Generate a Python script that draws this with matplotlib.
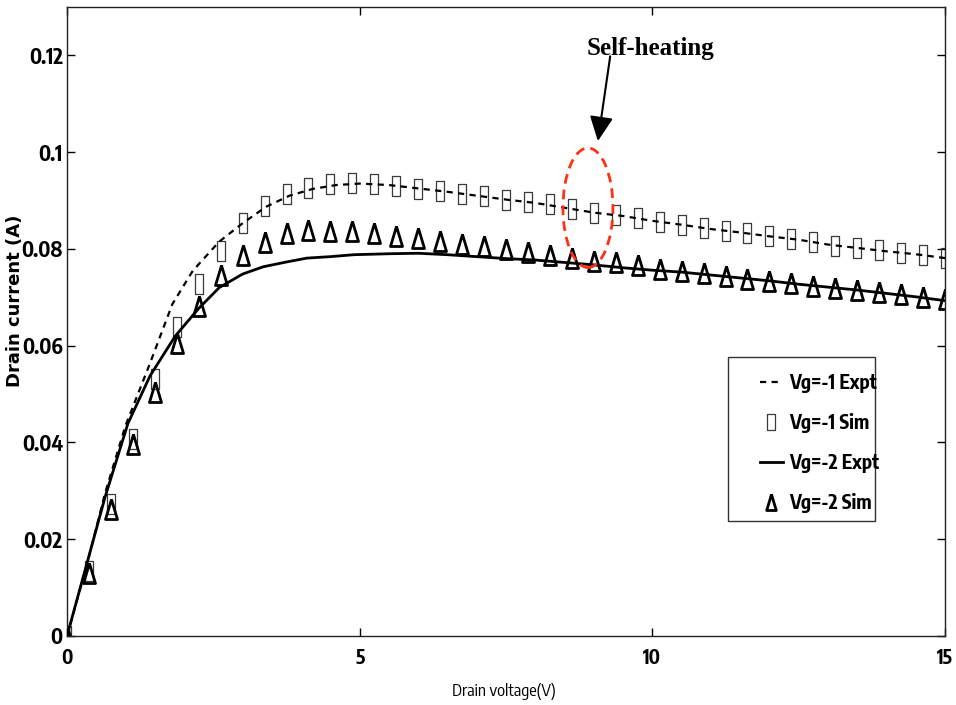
import matplotlib
matplotlib.use("Agg")
import matplotlib.pyplot as plt
from matplotlib.patches import Ellipse, Rectangle
from matplotlib.ticker import FuncFormatter, FixedLocator

# ---- data -------------------------------------------------------------
# simulation bias points (drain voltage, V)
vd_sim = [0.0, 0.375, 0.75, 1.125, 1.5, 1.875, 2.25, 2.625, 3.0, 3.375,
          3.75, 4.125, 4.5, 4.875, 5.25, 5.625, 6.0, 6.375, 6.75, 7.125,
          7.5, 7.875, 8.25, 8.625, 9.0, 9.375, 9.75, 10.125, 10.5, 10.875,
          11.25, 11.625, 12.0, 12.375, 12.75, 13.125, 13.5, 13.875, 14.25,
          14.625, 15.0]

# simulated drain current (A)
id_vg1_sim = [0.0, 0.0135, 0.0272, 0.0408, 0.0532, 0.0639, 0.0728, 0.0796,
              0.0853, 0.0889, 0.0913, 0.0926, 0.0934, 0.0936, 0.0935, 0.0930,
              0.0924, 0.0920, 0.0913, 0.0909, 0.0902, 0.0897, 0.0892, 0.0882,
              0.0875, 0.0870, 0.0864, 0.0856, 0.0850, 0.0843, 0.0836, 0.0832,
              0.0826, 0.0821, 0.0814, 0.0806, 0.0802, 0.0797, 0.0792, 0.0787,
              0.0781]
id_vg2_sim = [0.0, 0.0130, 0.0262, 0.0396, 0.0505, 0.0605, 0.0682, 0.0747,
              0.0787, 0.0815, 0.0833, 0.0840, 0.0838, 0.0836, 0.0832, 0.0827,
              0.0823, 0.0816, 0.0810, 0.0806, 0.0799, 0.0794, 0.0788, 0.0781,
              0.0776, 0.0772, 0.0766, 0.0759, 0.0755, 0.0751, 0.0744, 0.0738,
              0.0734, 0.0729, 0.0724, 0.0720, 0.0715, 0.0710, 0.0706, 0.0701,
              0.0697]

# measured curves
vd_vg1_expt = [0.0, 0.35, 0.65, 1.0, 1.4, 1.8, 2.15, 2.6, 3.0, 3.4, 3.8,
               4.2, 4.6, 5.0, 5.5, 6.0, 6.5, 7.0, 7.5, 8.0, 8.5, 9.0, 9.5,
               10.0, 10.5, 11.0, 11.5, 12.0, 12.5, 13.0, 13.5, 14.0, 14.5,
               15.0]
id_vg1_expt = [0.0, 0.0152, 0.0295, 0.0435, 0.0558, 0.0686, 0.0755, 0.0815,
               0.0853, 0.0887, 0.0910, 0.0924, 0.0932, 0.0935, 0.0932,
               0.0925, 0.0918, 0.0910, 0.0902, 0.0895, 0.0885, 0.0875,
               0.0868, 0.0858, 0.0850, 0.0841, 0.0834, 0.0826, 0.0819,
               0.0809, 0.0802, 0.0795, 0.0789, 0.0781]

vd_vg2_expt = [0.0, 0.34, 0.65, 1.04, 1.42, 1.85, 2.25, 2.6, 3.0, 3.35,
               3.75, 4.1, 4.5, 4.9, 5.5, 6.0, 6.5, 7.0, 7.5, 8.0, 8.5, 9.0,
               9.5, 10.0, 10.5, 11.0, 11.5, 12.0, 12.5, 13.0, 13.5, 14.0,
               14.5, 15.0]
id_vg2_expt = [0.0, 0.0150, 0.0287, 0.0439, 0.0538, 0.0620, 0.0677, 0.0720,
               0.0748, 0.0763, 0.0773, 0.0781, 0.0784, 0.0788, 0.0790,
               0.0791, 0.0788, 0.0784, 0.0780, 0.0777, 0.0772, 0.0767,
               0.0761, 0.0756, 0.0752, 0.0746, 0.0740, 0.0734, 0.0727,
               0.0721, 0.0715, 0.0708, 0.0701, 0.0693]

series_labels = ["Vg=-1 Expt", "Vg=-1 Sim", "Vg=-2 Expt", "Vg=-2 Sim"]
x_ticks = [0, 5, 10, 15]
y_ticks = [0, 0.02, 0.04, 0.06, 0.08, 0.1, 0.12]
annotation_text = "Self-heating"

# ---- styling ----------------------------------------------------------
narrow = ["Nimbus Sans Narrow", "Encode Sans Condensed", "DejaVu Sans"]
plt.rcParams["font.family"] = narrow

# tall open markers
rect_marker = [(-0.47, -1), (0.47, -1), (0.47, 1), (-0.47, 1), (-0.47, -1)]
tri_marker = [(0, 1), (-0.6, -1), (0.6, -1), (0, 1)]

fig = plt.figure(figsize=(9.56, 7.05), dpi=100)
ax = fig.add_axes([0.0701, 0.0979, 0.9184, 0.8922])

h_sq, = ax.plot(vd_sim, id_vg1_sim, linestyle="none", marker=rect_marker,
                markersize=13.7, markerfacecolor="none",
                markeredgecolor="#3a3a3a", markeredgewidth=0.9, zorder=2)
h_tri, = ax.plot(vd_sim, id_vg2_sim, linestyle="none", marker=tri_marker,
                 markersize=14.4, markerfacecolor="none",
                 markeredgecolor="black", markeredgewidth=2.0, zorder=2)
h_dash, = ax.plot(vd_vg1_expt, id_vg1_expt, color="black", linewidth=1.6,
                  linestyle=(0, (2.8, 2.4)), zorder=3)
h_solid, = ax.plot(vd_vg2_expt, id_vg2_expt, color="black", linewidth=2.0,
                   zorder=3)

ax.set_xlim(0, 15)
ax.set_ylim(0, 0.13)
ax.xaxis.set_major_locator(FixedLocator(x_ticks))
ax.yaxis.set_major_locator(FixedLocator(y_ticks))
ax.yaxis.set_major_formatter(FuncFormatter(lambda v, p: "%g" % v))
ax.xaxis.set_major_formatter(FuncFormatter(lambda v, p: "%g" % v))

ax.tick_params(axis="both", direction="in", length=6, width=1,
               top=True, right=True, colors="black")
ax.tick_params(axis="x", pad=8.5, labelsize=14)
ax.tick_params(axis="y", pad=3, labelsize=15)
for lab in ax.get_xticklabels() + ax.get_yticklabels():
    lab.set_fontweight("bold")
for sp in ax.spines.values():
    sp.set_linewidth(1.0)
    sp.set_color("#222222")

ax.set_xlabel("Drain voltage(V)", fontsize=12, va="top")
ax.xaxis.set_label_coords(0.498, -0.0747)
ax.set_ylabel("Drain current (A)", fontsize=13, fontweight="bold",
              family="DejaVu Sans")
ax.yaxis.set_label_coords(-0.049, 0.533)

# legend: frame drawn separately so the inner padding can be set freely
ax.add_patch(Rectangle((0.753, 0.183), 0.167, 0.2606, transform=ax.transAxes,
                       facecolor="white", edgecolor="#333333", linewidth=1.0,
                       zorder=4))
leg = ax.legend([h_dash, h_sq, h_solid, h_tri], series_labels,
                loc="upper left", bbox_to_anchor=(0.789, 0.418),
                frameon=False, borderpad=0, borderaxespad=0,
                handlelength=1.2, handletextpad=0.3, labelspacing=1.02,
                markerscale=0.8, prop={"family": narrow, "size": 14,
                                       "weight": "bold"})
leg.set_zorder(5)

# annotation: self-heating region
ax.add_patch(Ellipse((8.9, 0.0885), 0.854, 0.0247, fill=False,
                     edgecolor="#ff3015", linewidth=2.0,
                     linestyle=(0, (3.5, 2.2)), zorder=4))
ax.annotate("", xy=(9.07, 0.1023), xytext=(9.28, 0.1198),
            arrowprops=dict(arrowstyle="-|>,head_length=1.0,head_width=0.48",
                            mutation_scale=15, color="black", linewidth=1.5,
                            shrinkA=0, shrinkB=0), zorder=4)
ax.text(9.96, 0.1215, annotation_text, ha="center", va="center",
        fontsize=18, fontweight="bold", family="Liberation Serif", zorder=4)

fig.savefig("out.png", dpi=100, facecolor="white")
